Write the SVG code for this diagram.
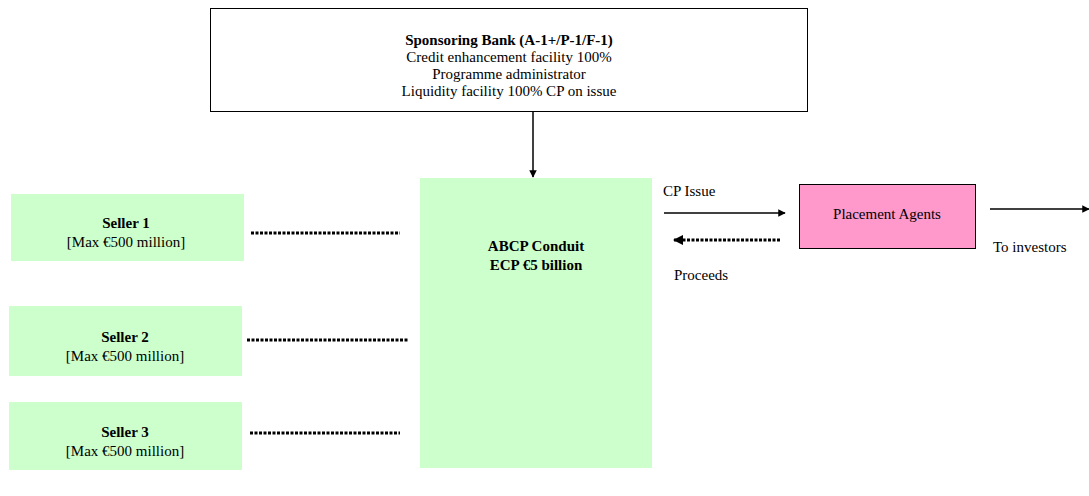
<svg xmlns="http://www.w3.org/2000/svg" width="1089" height="496" viewBox="0 0 1089 496">
<defs>
<style>
text{font-family:"Liberation Serif","Times New Roman",serif;font-size:15px;fill:#000}
.b{font-weight:bold}
.c{text-anchor:middle}
.g{fill:#CCFFCC;stroke:none}
.dot{stroke:#000;stroke-width:3;stroke-dasharray:3 1.5;fill:none}
.ln{stroke:#000;stroke-width:1.5;fill:none}
</style>
<marker id="ah" viewBox="0 0 10 10" refX="9" refY="5" markerWidth="5" markerHeight="5" orient="auto"><path d="M0,0 L10,5 L0,10 z" fill="#000"/></marker>
<marker id="ah2" viewBox="0 0 10 10" refX="9" refY="5" markerWidth="3.5" markerHeight="3.5" orient="auto"><path d="M0,0 L10,5 L0,10 z" fill="#000"/></marker>
</defs>
<g id="sponsor">
<rect x="210.5" y="8.5" width="597" height="103" fill="#fff" stroke="#000" stroke-width="1"/>
<text class="c b" x="509" y="45">Sponsoring Bank (A-1+/P-1/F-1)</text>
<text class="c" x="509" y="62">Credit enhancement facility 100%</text>
<text class="c" x="509" y="79">Programme administrator</text>
<text class="c" x="509" y="96">Liquidity facility 100% CP on issue</text>
</g>
<g id="conduit">
<rect class="g" x="420" y="178" width="232" height="290"/>
<text class="c b" x="536" y="251">ABCP Conduit</text>
<text class="c b" x="536" y="270">ECP €5 billion</text>
</g>
<g id="seller1">
<rect class="g" x="11" y="194" width="233" height="67"/>
<text class="c b" x="126" y="228">Seller 1</text>
<text class="c" x="126" y="247">[Max €500 million]</text>
</g>
<g id="seller2">
<rect class="g" x="9" y="306" width="233" height="70"/>
<text class="c b" x="125" y="342">Seller 2</text>
<text class="c" x="125" y="361">[Max €500 million]</text>
</g>
<g id="seller3">
<rect class="g" x="9" y="402" width="233" height="68"/>
<text class="c b" x="125" y="437">Seller 3</text>
<text class="c" x="125" y="456">[Max €500 million]</text>
</g>
<g id="placement">
<rect x="799.5" y="184.5" width="176" height="64" fill="#FF99CC" stroke="#000" stroke-width="1"/>
<text class="c" x="887" y="219">Placement Agents</text>
</g>
<g id="connectors">
<line class="ln" x1="533" y1="112" x2="533" y2="177" marker-end="url(#ah)"/>
<line class="dot" x1="251" y1="233" x2="400" y2="233"/>
<line class="dot" x1="247" y1="340" x2="409" y2="340"/>
<line class="dot" x1="250" y1="433" x2="400" y2="433"/>
<line class="ln" x1="664" y1="213" x2="785" y2="213" marker-end="url(#ah)"/>
<line class="dot" x1="780" y1="240" x2="674" y2="240" marker-end="url(#ah2)"/>
<line class="ln" x1="990" y1="209" x2="1089" y2="209" marker-end="url(#ah)"/>
</g>
<g id="labels">
<text x="663" y="196">CP Issue</text>
<text x="674" y="280">Proceeds</text>
<text x="993" y="252">To investors</text>
</g>
</svg>
